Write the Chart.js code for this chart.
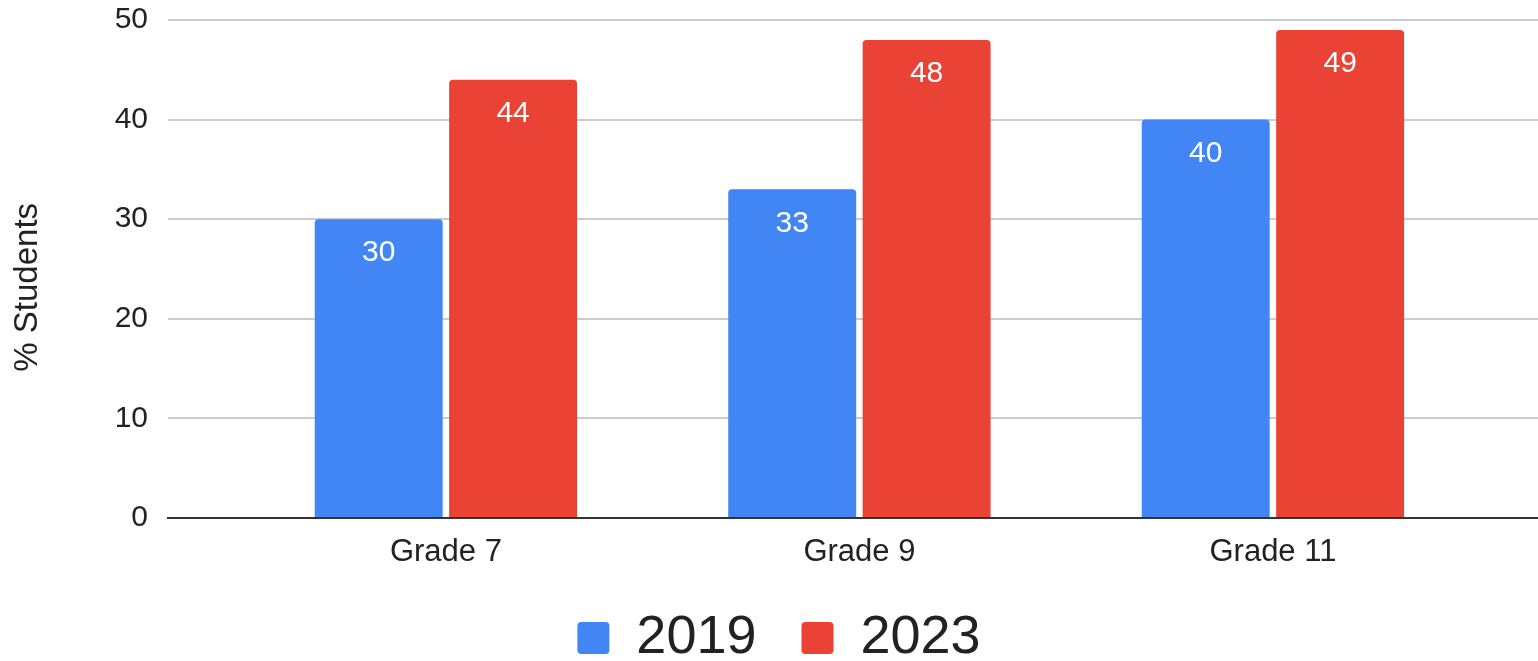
<!DOCTYPE html>
<html>
<head>
<meta charset="utf-8">
<title>% Students by grade, 2019 and 2023</title>
<script src="https://cdn.jsdelivr.net/npm/chart.js@4.4.1/dist/chart.umd.min.js"></script>
<style>
  html, body { margin: 0; padding: 0; background: #fff; }
  #chart { display: block; }
</style>
</head>
<body>
<canvas id="chart" width="1538" height="661"></canvas>
<script>
// Grade levels along the x axis
const grades = ['Grade 7', 'Grade 9', 'Grade 11'];

// Percent of students per grade, one array per survey year
const students2019 = [30, 33, 40];
const students2023 = [44, 48, 49];

// Y axis ticks
const yTicks = [0, 10, 20, 30, 40, 50];

const FONT = "'Liberation Sans', Arial, Helvetica, sans-serif";

// White value labels just inside the top of each bar
const barValueLabels = {
    id: 'barValueLabels',
    afterDatasetsDraw(chart) {
        const ctx = chart.ctx;
        ctx.save();
        ctx.font = '30px ' + FONT;
        ctx.fillStyle = '#fff';
        ctx.textAlign = 'center';
        ctx.textBaseline = 'middle';
        chart.data.datasets.forEach(function(ds, i) {
            chart.getDatasetMeta(i).data.forEach(function(bar, j) {
                ctx.fillText(ds.data[j].y, bar.x, bar.y + 34);
            });
        });
        ctx.restore();
    }
};

function toPoints(values) {
    return values.map(function(v, i) { return { x: i, y: v }; });
}

new Chart(document.getElementById('chart'), {
    type: 'bar',
    data: {
        datasets: [{
            label: '2019',
            data: toPoints(students2019),
            backgroundColor: '#4285F4'
        }, {
            label: '2023',
            data: toPoints(students2023),
            backgroundColor: '#EA4335'
        }]
    },
    options: {
        responsive: false,
        animation: false,
        datasets: {
            bar: {
                categoryPercentage: 0.65,
                barPercentage: 0.952,
                borderWidth: 0,
                borderRadius: { topLeft: 4, topRight: 4, bottomLeft: 0, bottomRight: 0 },
                borderSkipped: false
            }
        },
        layout: {
            padding: { top: 20, left: 20, right: 0, bottom: 0 }
        },
        plugins: {
            legend: {
                position: 'bottom',
                maxHeight: 95,
                labels: {
                    color: '#222',
                    font: { family: FONT, size: 54 },
                    boxWidth: 32,
                    boxHeight: 32,
                    padding: 45,
                    useBorderRadius: true,
                    borderRadius: 4
                }
            },
            tooltip: { enabled: false }
        },
        scales: {
            x: {
                type: 'linear',
                min: -0.672,
                max: 2.641,
                offset: false,
                afterBuildTicks: function(scale) {
                    scale.ticks = grades.map(function(g, i) { return { value: i }; });
                },
                afterFit: function(scale) { scale.height = 48; },
                grid: { display: false, drawTicks: false },
                border: { color: '#333', width: 2 },
                ticks: {
                    padding: 16,
                    color: '#222',
                    font: { family: FONT, size: 31 },
                    callback: function(value) { return grades[value]; }
                }
            },
            y: {
                min: 0,
                max: 50,
                afterBuildTicks: function(scale) {
                    scale.ticks = yTicks.map(function(v) { return { value: v }; });
                },
                afterFit: function(scale) {
                    scale.width = 148;
                    // tick padding would otherwise push the plot area down
                    scale.paddingTop = 0;
                    scale.paddingBottom = 0;
                },
                grid: { color: '#ccc', lineWidth: 2, drawTicks: false },
                border: { display: false },
                ticks: {
                    padding: 20,
                    color: '#222',
                    font: { family: FONT, size: 30 }
                },
                title: {
                    display: true,
                    // trailing spaces nudge the rotated title toward the bottom
                    text: '% Students    ',
                    color: '#222',
                    font: { family: FONT, size: 33, lineHeight: 1 },
                    padding: { top: -9, bottom: 0 }
                }
            }
        }
    },
    plugins: [barValueLabels]
});
</script>
</body>
</html>
